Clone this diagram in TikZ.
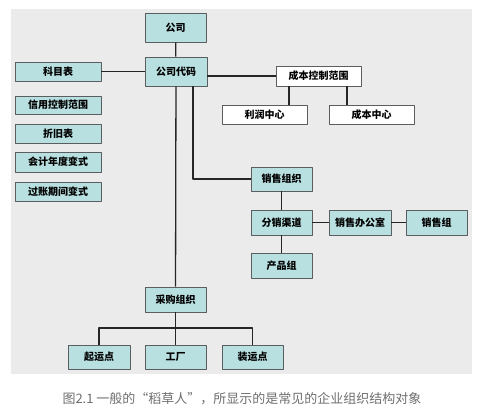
\documentclass[tikz,border=0pt]{standalone}
\usepackage{fontspec}
\newfontfamily\cjk{Noto Sans CJK SC}
\usetikzlibrary{positioning}
\definecolor{boxfill}{HTML}{B9E0E1}
\definecolor{boxline}{HTML}{5A5E60}
\definecolor{panel}{HTML}{EBEBEB}
\definecolor{captext}{HTML}{6E6E6E}
\begin{document}
\begin{tikzpicture}[x=1pt,y=-1pt,line join=round,thick]
			\tikzset{every node/.style={font=\cjk\bfseries\fontsize{10}{12}\selectfont,inner sep=0pt},
				obj/.style={draw=boxline,fill=boxfill,line width=0.8pt,minimum height=25pt,minimum width=61pt},
				rng/.style={obj,fill=white,minimum height=19pt,minimum width=85pt},
				cfg/.style={obj,minimum height=19pt,minimum width=86pt},
				link/.style={line width=1.3pt,black!85}}
			\useasboundingbox (0,0) rectangle (482,420);
			\fill[panel] (11,9) rectangle (472,374);
			% company structure
			\node[obj,minimum height=29pt] (gongsi) at (175.5,27.5) {公司};
			\node[obj,minimum height=29pt,minimum width=62pt] (daima) at (176,71.5) {公司代码};
			\node[cfg] (kemu) at (58,71.5) {科目表};
			\node[cfg,minimum height=18pt] (xinyong) at (58,105) {信用控制范围};
			\node[cfg] (zhejiu) at (58,133.5) {折旧表};
			\node[cfg,minimum height=20pt] (niandu) at (58,162) {会计年度变式};
			\node[cfg] (qijian) at (58,191.5) {过账期间变式};
			% controlling
			\node[rng,minimum height=20pt] (kzfw) at (318.5,76) {成本控制范围};
			\node[rng] (lirun) at (264.5,114.5) {利润中心};
			\node[rng] (cbzx) at (371.5,114.5) {成本中心};
			% sales
			\node[obj,minimum height=24pt] (xszz) at (281.5,179) {销售组织};
			\node[obj] (fxqd) at (281.5,222.5) {分销渠道};
			\node[obj,minimum width=62pt] (bgs) at (360,222.5) {销售办公室};
			\node[obj] (xsz) at (436.5,222.5) {销售组};
			\node[obj] (cpz) at (281.5,265.5) {产品组};
			% purchasing
			\node[obj] (cgzz) at (175.5,299.5) {采购组织};
			\node[obj,minimum height=24pt,minimum width=62pt] (qyd) at (99,357) {起运点};
			\node[obj,minimum height=24pt] (gc) at (175.5,357) {工厂};
			\node[obj,minimum height=24pt] (zyd) at (252.5,357) {装运点};
			\coordinate (bus) at (175.5,328);
			% links
			\draw[link] (gongsi) -- (daima);
			\draw[link] (kemu) -- (daima);
			\draw[link] (kzfw.west) -- (kzfw.west -| daima.east);
			\draw[link] ([xshift=-29.5pt]kzfw.south) -- ([xshift=-29.5pt]kzfw.south |- lirun.north);
			\draw[link] ([xshift=28.5pt]kzfw.south) -- ([xshift=28.5pt]kzfw.south |- cbzx.north);
			\draw[link] ([xshift=17pt]daima.south) |- (xszz.west);
			\draw[link] (xszz) -- (fxqd) -- (cpz);
			\draw[link] (fxqd) -- (bgs) -- (xsz);
			\draw[link] (daima) -- (cgzz);
			\draw[link] (cgzz) -- (gc);
			\draw[link] (qyd.north) |- (bus) -| (zyd.north);
			\node[font=\cjk\fontsize{13}{15}\selectfont,text=captext] (caption) at (242,399) {图2.1 一般的“稻草人”，所显示的是常见的企业组织结构对象};
		\end{tikzpicture}
\end{document}
